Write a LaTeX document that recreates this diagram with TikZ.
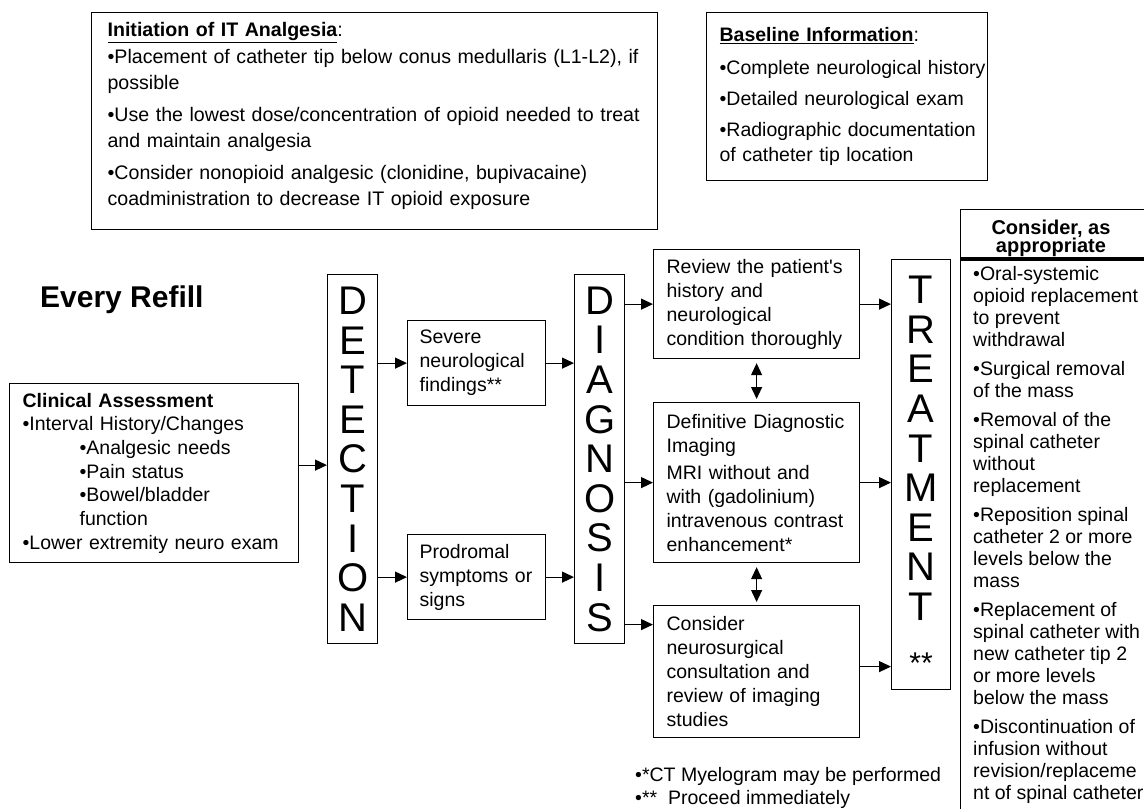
\documentclass[tikz,border=0pt]{standalone}
\usepackage{fontspec}
\setmainfont{Liberation Sans}
\usetikzlibrary{arrows.meta}
\newcommand{\fsz}[2]{\fontsize{#1}{#2}\selectfont}
\begin{document}
\begin{tikzpicture}[x=1pt,y=-1pt,
  box/.style={draw, line width=1.2pt, anchor=north west, align=left, inner ysep=0pt, inner xsep=13pt},
  arr/.style={line width=1.2pt, -{Triangle[length=12pt,width=11pt]}},
  darr/.style={line width=1.2pt, {Triangle[length=12pt,width=11pt]}-{Triangle[length=12pt,width=11pt]}, shorten <=4pt, shorten >=3pt},
  stack/.style={draw, line width=1.2pt, anchor=north west, align=center, inner sep=0pt, font=\fsz{40}{39.6}},
  bodytxt/.style={font=\fsz{19.5}{24}}
]
\useasboundingbox (0,0) rectangle (1144,809);
\clip (0,0) rectangle (1144,809);

% top boxes
\node[box, inner xsep=16pt, minimum width=566pt, minimum height=217pt, text width=534pt, font=\fsz{19.6}{26}] (init) at (91,12)
{\mbox{\underline{\textbf{Initiation of IT Analgesia}}:}\\[1pt]
\mbox{•Placement of catheter tip below conus medullaris (L1-L2), if}\\
possible\\[6pt]
\mbox{•Use the lowest dose/concentration of opioid needed to treat}\\
and maintain analgesia\\[6pt]
\mbox{•Consider nonopioid analgesic (clonidine, bupivacaine)}\\
\mbox{coadministration to decrease IT opioid exposure}\rule[-14pt]{0pt}{1pt}};

\node[box, minimum width=281pt, minimum height=168pt, text width=255pt, font=\fsz{19.5}{25}] (base) at (706,12)
{\mbox{\underline{\textbf{Baseline Information}}:}\\[8pt]
\mbox{•Complete neurological history}\\[6pt]
\mbox{•Detailed neurological exam}\\[6pt]
\mbox{•Radiographic documentation}\\
\mbox{of catheter tip location}};

% left side
\node[font=\fsz{30}{36}\bfseries, anchor=west, inner sep=0pt] (every) at (40,300) {Every Refill};

\node[box, minimum width=289pt, minimum height=179pt, text width=263pt, font=\fsz{19.5}{23.7}] (clin) at (9,383)
{\textbf{Clinical Assessment}\\
•Interval History/Changes\\
\hspace*{57pt}•Analgesic needs\\
\hspace*{57pt}•Pain status\\
\hspace*{57pt}•Bowel/bladder\\
\hspace*{57pt}function\\
•Lower extremity neuro exam};

% stacks
\node[stack, minimum width=50pt, minimum height=369pt, text width=50pt] (det) at (327,274)
{D\\E\\T\\E\\C\\T\\I\\O\\N};
\node[stack, minimum width=50pt, minimum height=369pt, text width=50pt] (dia) at (574,274)
{D\\I\\A\\G\\N\\O\\S\\I\\S};
\node[stack, minimum width=59pt, minimum height=430pt, text width=59pt] (trt) at (891,259)
{T\\R\\E\\A\\T\\M\\E\\N\\T\\[13pt]{\fsz{30}{30}**}};

% detection branches
\node[box, bodytxt, minimum width=138pt, minimum height=85pt, text width=114pt, inner xsep=12pt] (sev) at (407,320)
{Severe\\neurological\\findings**};
\node[box, bodytxt, minimum width=138pt, minimum height=85pt, text width=114pt, inner xsep=12pt] (pro) at (407,534)
{Prodromal\\symptoms or\\signs};

% diagnosis branches
\node[box, bodytxt, minimum width=206pt, minimum height=109pt, text width=180pt] (rev) at (653,249)
{Review the patient\textquotesingle s\\history and\\neurological\\condition thoroughly};
\node[box, bodytxt, minimum width=206pt, minimum height=160pt, text width=180pt] (def) at (653,402)
{Definitive Diagnostic\\Imaging\\[3pt]
MRI without and\\with (gadolinium)\\intravenous contrast\\enhancement*};
\node[box, bodytxt, minimum width=206pt, minimum height=132pt, text width=180pt] (con) at (653,605)
{Consider\\neurosurgical\\consultation and\\review of imaging\\studies};

% right box
\node[draw, line width=1.2pt, anchor=north west, minimum width=200pt, minimum height=650pt, inner sep=0pt] (opt) at (960,209) {};
\node[font=\fsz{20}{18}\bfseries, align=center, inner sep=0pt] (opthead) at (1051,238) {Consider, as\\appropriate};
\coordinate (hl) at (960,259);
\draw[line width=3.5pt] (hl) -- (hl -| opt.east);
\node[anchor=north west, align=left, inner sep=0pt, font=\fsz{19.5}{22}] (optlist) at (973,266)
{•Oral-systemic\\opioid replacement\\to prevent\\withdrawal\\[7pt]
•Surgical removal\\of the mass\\[7pt]
•Removal of the\\spinal catheter\\without\\replacement\\[7pt]
•Reposition spinal\\catheter 2 or more\\levels below the\\mass\\[7pt]
•Replacement of\\spinal catheter with\\new catheter tip 2\\or more levels\\below the mass\\[7pt]
•Discontinuation of\\infusion without\\revision/replaceme\\nt of spinal catheter};

% footnotes
\node[anchor=west, align=left, inner sep=0pt, font=\fsz{19.5}{23}] (notes) at (635,788)
{•*CT Myelogram may be performed\\•**\ \ Proceed immediately};

% connectors
\coordinate (c1) at ([yshift=8pt]clin.east);
\draw[arr] (c1) -- (c1 -| det.west);
\draw[arr] (sev.west -| det.east) -- (sev.west);
\draw[arr] (pro.west -| det.east) -- (pro.west);
\draw[arr] (sev.east) -- (sev.east -| dia.west);
\draw[arr] (pro.east) -- (pro.east -| dia.west);
\draw[arr] (rev.west -| dia.east) -- (rev.west);
\draw[arr] (def.west -| dia.east) -- (def.west);
\coordinate (c2) at ([yshift=47pt]con.west);
\draw[arr] (c2 -| dia.east) -- (c2);
\draw[arr] (rev.east) -- (rev.east -| trt.west);
\draw[arr] (def.east) -- (def.east -| trt.west);
\coordinate (c3) at ([yshift=5pt]con.east);
\draw[arr] (c3) -- (c3 -| trt.west);
\draw[darr] (rev.south) -- (def.north);
\draw[darr] (def.south) -- (con.north);
\end{tikzpicture}
\end{document}
